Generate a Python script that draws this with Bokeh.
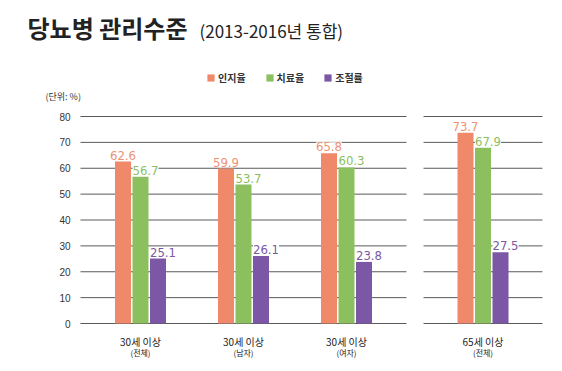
from bokeh.plotting import figure
from bokeh.models import ColumnDataSource, Range1d, Label, LabelSet, Legend, LegendItem
from bokeh.transform import dodge
from bokeh.core.properties import value
from bokeh.embed import file_html
from bokeh.resources import INLINE

# ---- data ----
categories = ["30세 이상", "30세 이상", "30세 이상", "65세 이상"]
subcategories = ["(전체)", "(남자)", "(여자)", "(전체)"]
series_names = ["인지율", "치료율", "조절률"]
awareness = [62.6, 59.9, 65.8, 73.7]
treatment = [56.7, 53.7, 60.3, 67.9]
control = [25.1, 26.1, 23.8, 27.5]
yticks = [0, 10, 20, 30, 40, 50, 60, 70, 80]

# ---- styles / layout ----
colors = ["#F0896A", "#8CC05E", "#7C57A6"]
label_colors = ["#EE9274", "#8CBF62", "#7A5AA3"]
KR = "Noto Sans CJK KR"
NUM = "DejaVu Sans Condensed, Roboto, sans-serif"

W, H = 562, 371
px = 2.5875          # pixels per y unit
x0_px, y0_px = 80, 323  # pixel position of the value origin
panel1 = (0, 326)
panel2 = (343, 462)
group_x = [60 + 103 * i for i in range(3)] + [(panel2[0] + panel2[1]) / 2]
bar_offsets = [-17.5, 0, 17.5]
label_shift = [0, 5, 5]
bar_w = 16

p = figure(width=W, height=H, output_backend="svg", toolbar_location=None,
           x_range=Range1d(-x0_px, W - x0_px),
           y_range=Range1d(-(H - y0_px) / px, y0_px / px),
           x_axis_location=None, y_axis_location=None,
           min_border=0, outline_line_color=None)
p.grid.visible = False
p.background_fill_color = "white"

# gridlines for both panels
gx0, gx1, gy = [], [], []
for t in yticks:
    for (a, b) in (panel1, panel2):
        gx0.append(a); gx1.append(b); gy.append(t)
p.segment(x0=gx0, x1=gx1, y0=gy, y1=gy, line_color="#5a5a5a", line_width=1)

# y tick labels
p.text(x=-10, y=yticks, text=[str(t) for t in yticks], text_font=value("Liberation Sans"),
       text_font_size="10px", text_color="#333333", text_align="right",
       text_baseline="middle")

src = ColumnDataSource(dict(x=group_x, cat=categories, sub=subcategories,
                            s0=awareness, s1=treatment, s2=control,
                            l0=[f"{v:.1f}" for v in awareness],
                            l1=[f"{v:.1f}" for v in treatment],
                            l2=[f"{v:.1f}" for v in control]))

renderers = []
for i in range(3):
    r = p.vbar(x=dodge("x", bar_offsets[i], range=p.x_range), top=f"s{i}", bottom=0,
               width=bar_w, source=src, fill_color=colors[i], line_color=None)
    renderers.append(r)
    ls = LabelSet(x=dodge("x", bar_offsets[i] + label_shift[i], range=p.x_range),
                  y=f"s{i}", text=f"l{i}", source=src, y_offset=2,
                  text_align="center", text_baseline="bottom",
                  text_font=value(NUM), text_font_size="13px",
                  text_color=label_colors[i], background_fill_color="white")
    p.add_layout(ls)

# category labels
p.text(x="x", y=-18 / px, text="cat", source=src, text_font=value(KR),
       text_font_size="10px", text_color="#222222", text_align="center",
       text_baseline="middle")
p.text(x="x", y=-29 / px, text="sub", source=src, text_font=value(KR),
       text_font_size="8px", text_color="#222222", text_align="center",
       text_baseline="middle")

# titles
p.add_layout(Label(x=27 - x0_px, y=(y0_px - 27) / px, text="당뇨병 관리수준",
                   text_font=KR, text_font_size="24px", text_font_style="bold",
                   text_color="#222222", text_baseline="middle"))
p.add_layout(Label(x=199 - x0_px, y=(y0_px - 29.5) / px, text="(2013-2016년 통합)",
                   text_font=KR, text_font_size="17px",
                   text_color="#222222", text_baseline="middle"))
p.add_layout(Label(x=45 - x0_px, y=(y0_px - 96) / px, text="(단위: %)",
                   text_font=KR, text_font_size="9px",
                   text_color="#333333", text_baseline="middle"))

legend = Legend(items=[LegendItem(label=series_names[i], renderers=[renderers[i]])
                       for i in range(3)],
                orientation="horizontal", location=(206, H - 85),
                glyph_width=9, glyph_height=9, label_height=10, label_standoff=3,
                spacing=19, padding=0, margin=0, border_line_color=None,
                background_fill_alpha=0, label_text_font=KR,
                label_text_font_size="10px", label_text_font_style="bold",
                label_text_color="#333333")
p.add_layout(legend)

open("out.html", "w").write(file_html(p, INLINE))
